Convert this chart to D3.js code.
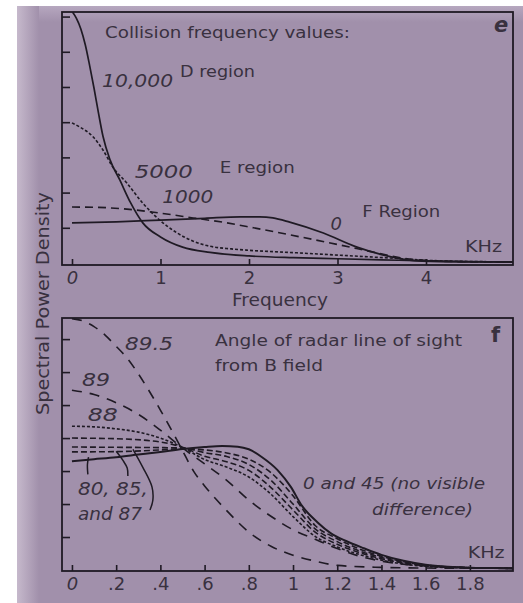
<!DOCTYPE html>
<html>
<head>
<meta charset="utf-8">
<script src="https://cdn.jsdelivr.net/npm/d3@7"></script>
<style>
  html, body { margin: 0; padding: 0; background: #fff; }
  svg { display: block; }
  text { font-family: "DejaVu Sans", sans-serif; fill: #39313f; }
</style>
</head>
<body>
<div id="chart"></div>
<script>
// ---- panel e : collision frequency (x in kHz) ----
const dRegionX = [0, 0.05, 0.1, 0.15, 0.2, 0.25, 0.3, 0.35, 0.43, 0.54, 0.66, 0.8, 1.0, 1.25, 1.56, 2.0, 2.5, 3.0, 3.5, 4.0, 4.5, 5.0];
const dRegionY = [7.15, 6.95, 6.65, 6.2, 5.6, 4.95, 4.25, 3.6, 2.93, 2.36, 1.72, 1.14, 0.74, 0.45, 0.3, 0.2, 0.15, 0.12, 0.09, 0.06, 0.04, 0.03];
const eRegionX = [0, 0.09, 0.24, 0.35, 0.46, 0.62, 0.8, 0.99, 1.19, 1.37, 1.55, 1.8, 2.0, 2.46, 3.03, 3.6, 4.16, 4.6, 5.0];
const eRegionY = [3.98, 3.86, 3.58, 3.21, 2.73, 2.27, 1.7, 1.22, 0.85, 0.62, 0.48, 0.4, 0.36, 0.3, 0.22, 0.14, 0.06, 0.04, 0.03];
const k1000X = [0, 0.3, 0.62, 0.99, 1.37, 1.75, 2.05, 2.46, 3.03, 3.4, 3.71, 4.16, 4.6, 5.0];
const k1000Y = [1.59, 1.58, 1.53, 1.42, 1.28, 1.14, 1.0, 0.8, 0.51, 0.31, 0.15, 0.05, 0.03, 0.02];
const fRegionX = [0, 0.5, 1.0, 1.5, 1.9, 2.12, 2.27, 2.46, 2.84, 3.22, 3.51, 3.79, 4.16, 4.6, 5.0];
const fRegionY = [1.14, 1.17, 1.22, 1.27, 1.31, 1.31, 1.28, 1.16, 0.85, 0.45, 0.23, 0.09, 0.04, 0.03, 0.02];
const topTicksX = [0, 1, 2, 3, 4];
const topTicksY = [1, 2, 3, 4, 5, 6, 7];

// ---- panel f : angle of line of sight (x in kHz) ----
const a895X = [0, 0.05, 0.1, 0.15, 0.2, 0.25, 0.3, 0.35, 0.4, 0.45, 0.5, 0.55, 0.6, 0.65, 0.7, 0.8, 0.9, 1.0, 1.1, 1.2, 1.4, 1.6, 2.0];
const a895Y = [7.62, 7.55, 7.38, 7.12, 6.78, 6.42, 5.95, 5.42, 4.85, 4.25, 3.62, 3.0, 2.55, 2.16, 1.8, 1.15, 0.72, 0.45, 0.27, 0.14, 0.08, 0.06, 0.05];
const a89X = [0, 0.1, 0.2, 0.3, 0.4, 0.5, 0.6, 0.7, 0.8, 0.9, 1.0, 1.1, 1.2, 1.3, 1.4, 1.6, 1.8, 2.0];
const a89Y = [5.45, 5.32, 5.07, 4.72, 4.24, 3.7, 3.22, 2.72, 2.12, 1.63, 1.22, 0.93, 0.65, 0.42, 0.27, 0.12, 0.07, 0.05];
const a88X = [0, 0.1, 0.2, 0.3, 0.4, 0.5, 0.6, 0.7, 0.8, 0.9, 1.0, 1.1, 1.2, 1.3, 1.4, 1.5, 1.6, 1.8, 2.0];
const a88Y = [4.36, 4.34, 4.28, 4.18, 4.0, 3.72, 3.35, 3.12, 2.82, 2.3, 1.62, 1.02, 0.7, 0.47, 0.3, 0.18, 0.11, 0.06, 0.05];
const lowX = [0, 0.2, 0.4, 0.5, 0.6, 0.7, 0.8, 0.9, 1.0, 1.1, 1.2, 1.3, 1.4, 1.5, 1.6, 1.8, 2.0];
const a87Y = [4.0, 3.98, 3.88, 3.72, 3.45, 3.28, 3.02, 2.5, 1.82, 1.15, 0.78, 0.53, 0.34, 0.21, 0.13, 0.07, 0.05];
const a85Y = [3.73, 3.72, 3.71, 3.7, 3.56, 3.44, 3.2, 2.72, 2.0, 1.25, 0.86, 0.58, 0.38, 0.23, 0.14, 0.07, 0.05];
const a80Y = [3.58, 3.59, 3.64, 3.68, 3.64, 3.55, 3.36, 2.95, 2.25, 1.35, 0.95, 0.64, 0.42, 0.25, 0.15, 0.07, 0.05];
const a0X = [0, 0.1, 0.2, 0.3, 0.4, 0.5, 0.6, 0.68, 0.75, 0.8, 0.86, 0.93, 0.99, 1.04, 1.11, 1.17, 1.24, 1.32, 1.4, 1.5, 1.6, 1.7, 1.8, 1.9, 2.0];
const a0Y = [3.3, 3.36, 3.42, 3.5, 3.58, 3.67, 3.73, 3.76, 3.74, 3.66, 3.42, 3.03, 2.52, 1.95, 1.45, 1.12, 0.88, 0.66, 0.46, 0.28, 0.16, 0.1, 0.07, 0.06, 0.05];
const botTicksX = [0, 0.2, 0.4, 0.6, 0.8, 1, 1.2, 1.4, 1.6, 1.8];
const botTickLabels = ["0", ".2", ".4", ".6", ".8", "1", "1.2", "1.4", "1.6", "1.8"];
const botTicksY = [1, 2, 3, 4, 5, 6, 7];

// leader strokes from the 80/85/87 curves to their label
const leader80 = [[0.075, 3.42], [0.07, 3.2], [0.072, 2.9]];
const leader85 = [[0.2, 3.6], [0.23, 3.33], [0.25, 3.09], [0.253, 2.85]];
const leader87 = [[0.276, 3.66], [0.32, 3.12], [0.362, 2.52], [0.366, 2.12], [0.353, 1.82]];

const zip = (xs, ys) => xs.map((x, i) => [x, ys[i]]);

const W = 523, H = 603;
const svg = d3.select("#chart").append("svg").attr("width", W).attr("height", H);
const defs = svg.append("defs");

const bandGrad = defs.append("linearGradient").attr("id", "band").attr("x1", 0).attr("x2", 1).attr("y1", 0).attr("y2", 0);
bandGrad.append("stop").attr("offset", "0%").attr("stop-color", "#c6b9cc");
bandGrad.append("stop").attr("offset", "100%").attr("stop-color", "#a190ab");
const topGrad = defs.append("linearGradient").attr("id", "topband").attr("x1", 0).attr("x2", 0).attr("y1", 0).attr("y2", 1);
topGrad.append("stop").attr("offset", "0%").attr("stop-color", "#b6a7bf");
topGrad.append("stop").attr("offset", "100%").attr("stop-color", "#a190ab");

svg.append("rect").attr("width", W).attr("height", H).attr("fill", "#fff");
svg.append("rect").attr("x", 17).attr("y", 6).attr("width", W - 17).attr("height", H - 6).attr("fill", "#a190ab");
svg.append("rect").attr("x", 17).attr("y", 6).attr("width", W - 17).attr("height", 16).attr("fill", "url(#topband)");
svg.append("rect").attr("x", 17).attr("y", 6).attr("width", 22).attr("height", H - 6).attr("fill", "url(#band)");

const ink = "#1f1a24";

// stretch a label to the width it has in the picture
function fit(sel, w) {
  if (w) sel.attr("textLength", w).attr("lengthAdjust", "spacingAndGlyphs");
  return sel;
}

function panel(opts) {
  const x = d3.scaleLinear().domain(opts.xDomain).range([62, 513]);
  const y = d3.scaleLinear().domain(opts.yDomain).range([opts.bottom, opts.top]);
  const g = svg.append("g");

  defs.append("clipPath").attr("id", opts.id)
    .append("rect").attr("x", 62).attr("y", opts.top)
    .attr("width", 451).attr("height", opts.bottom - opts.top);

  const line = d3.line().x(d => x(d[0])).y(d => y(d[1])).curve(d3.curveMonotoneX);
  const curves = g.append("g").attr("clip-path", `url(#${opts.id})`);
  opts.series.forEach(s => {
    curves.append("path")
      .attr("d", line(s.data))
      .attr("fill", "none")
      .attr("stroke", ink)
      .attr("stroke-width", s.width || 1.6)
      .attr("stroke-dasharray", s.dash || null);
  });

  const leader = d3.line().x(d => x(d[0])).y(d => y(d[1])).curve(d3.curveCatmullRom);
  (opts.leaders || []).forEach(l => {
    g.append("path").attr("d", leader(l)).attr("fill", "none")
      .attr("stroke", ink).attr("stroke-width", 1.5);
  });

  // axes with inward ticks
  const xa = g.append("g").attr("transform", `translate(0,${opts.bottom})`)
    .call(d3.axisBottom(x).tickValues(opts.xTicks).tickSize(-6).tickPadding(6)
      .tickFormat((d, i) => opts.xLabels[i]));
  const ya = g.append("g").attr("transform", "translate(62,0)")
    .call(d3.axisLeft(y).tickValues(opts.yTicks).tickSize(-8).tickFormat(""));
  [xa, ya].forEach(a => {
    a.select(".domain").remove();
    a.selectAll("line").attr("stroke", ink).attr("stroke-width", 1.6);
  });
  xa.selectAll("text").attr("font-size", 18).attr("fill", "#39313f")
    .style("font-style", d => d === 0 ? "italic" : "normal");

  g.append("rect").attr("x", 62).attr("y", opts.top)
    .attr("width", 451).attr("height", opts.bottom - opts.top)
    .attr("fill", "none").attr("stroke", ink).attr("stroke-width", 1.8);

  opts.labels.forEach(l => {
    const t = g.append("text").attr("x", x(l.x)).attr("y", y(l.y))
      .attr("font-size", l.size || 16)
      .attr("text-anchor", l.anchor || "start")
      .style("font-style", l.italic ? "italic" : "normal")
      .style("font-weight", l.bold ? "bold" : "normal")
      .text(l.text);
    fit(t, l.w);
  });
  return { x, y };
}

panel({
  id: "clipE", top: 12, bottom: 265,
  xDomain: [-0.113, 4.983], yDomain: [-0.057, 7.13],
  xTicks: topTicksX, xLabels: topTicksX.map(String), yTicks: topTicksY,
  series: [
    { data: zip(dRegionX, dRegionY), width: 1.7 },
    { data: zip(eRegionX, eRegionY), dash: "3,2" },
    { data: zip(k1000X, k1000Y), dash: "8,5" },
    { data: zip(fRegionX, fRegionY), width: 1.7 }
  ],
  labels: [
    { text: "Collision frequency values:", x: 0.373, y: 6.39, size: 16, w: 245 },
    { text: "e", x: 4.93, y: 6.55, size: 21, bold: true, italic: true, anchor: "end" },
    { text: "10,000", x: 0.34, y: 5.0, size: 18, italic: true, w: 71 },
    { text: "D region", x: 1.22, y: 5.28, size: 16, w: 75 },
    { text: "5000", x: 0.71, y: 2.41, size: 18, italic: true, w: 58 },
    { text: "E region", x: 1.67, y: 2.56, size: 16, w: 75 },
    { text: "1000", x: 1.02, y: 1.7, size: 18, italic: true, w: 51 },
    { text: "0", x: 2.92, y: 0.94, size: 18, italic: true },
    { text: "F Region", x: 3.28, y: 1.31, size: 16, w: 78 },
    { text: "KHz", x: 4.44, y: 0.31, size: 16, w: 37 }
  ]
});

panel({
  id: "clipF", top: 318, bottom: 571,
  xDomain: [-0.045, 1.995], yDomain: [-0.03, 7.64],
  xTicks: botTicksX, xLabels: botTickLabels, yTicks: botTicksY,
  series: [
    { data: zip(a895X, a895Y), dash: "10,8" },
    { data: zip(a89X, a89Y), dash: "10,8" },
    { data: zip(a88X, a88Y), dash: "3,2" },
    { data: zip(lowX, a87Y), dash: "6,3" },
    { data: zip(lowX, a85Y), dash: "6,3" },
    { data: zip(lowX, a80Y), dash: "6,3" },
    { data: zip(a0X, a0Y), width: 2 }
  ],
  leaders: [leader80, leader85, leader87],
  labels: [
    { text: "89.5", x: 0.24, y: 6.67, size: 17, italic: true, w: 48 },
    { text: "Angle of radar line of sight", x: 0.647, y: 6.79, size: 16, w: 247 },
    { text: "from B field", x: 0.647, y: 6.03, size: 16, w: 108 },
    { text: "f", x: 1.937, y: 6.91, size: 21, bold: true, anchor: "end" },
    { text: "89", x: 0.045, y: 5.58, size: 17, italic: true, w: 28 },
    { text: "88", x: 0.072, y: 4.52, size: 17, italic: true, w: 30 },
    { text: "80, 85,", x: 0.027, y: 2.27, size: 17, italic: true, w: 70 },
    { text: "and 87", x: 0.027, y: 1.52, size: 17, italic: true, w: 64 },
    { text: "0 and 45 (no visible", x: 1.045, y: 2.45, size: 16, italic: true, w: 182 },
    { text: "difference)", x: 1.357, y: 1.67, size: 16, italic: true, w: 101 },
    { text: "KHz", x: 1.79, y: 0.36, size: 16, w: 37 }
  ]
});

fit(svg.append("text").attr("x", 232).attr("y", 306)
  .attr("font-size", 17).text("Frequency"), 96);
fit(svg.append("text").attr("transform", "translate(49,415) rotate(-90)")
  .attr("font-size", 17).text("Spectral Power Density"), 223);
</script>
</body>
</html>
